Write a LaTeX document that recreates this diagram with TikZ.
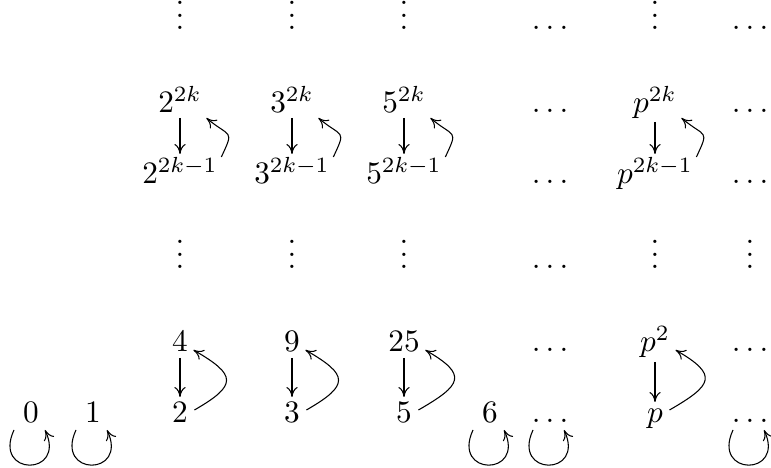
\documentclass[tikz,border=0pt]{standalone}
\usetikzlibrary{arrows.meta}
\begin{document}
\begin{tikzpicture}[x=0.32pt,y=0.32pt,
  lab/.style={anchor=base,inner sep=0pt},
  arr/.style={-{Computer Modern Rightarrow[length=3.2pt,width=3.6pt]}, line width=0.34pt}]
\useasboundingbox (0,0) rectangle (771,468);
% row 1 (baseline y=30 px)
\node[lab] (t2) at (180,438) {$\vdots$};
\node[lab] (t3) at (292,438) {$\vdots$};
\node[lab] (t5) at (404,438) {$\vdots$};
\node[lab] (td) at (550,438) {$\ldots$};
\node[lab] (tp) at (655,438) {$\vdots$};
\node[lab] (tl) at (750,438) {$\ldots$};
% row 2 (baseline 113)
\node[lab] (a2) at (180,355) {$2^{2k}$};
\node[lab] (a3) at (292,355) {$3^{2k}$};
\node[lab] (a5) at (404,355) {$5^{2k}$};
\node[lab] (ad) at (550,355) {$\ldots$};
\node[lab] (ap) at (655,355) {$p^{2k}$};
\node[lab] (al) at (750,355) {$\ldots$};
% row 3 (baseline 184)
\node[lab] (b2) at (180,284) {$2^{2k-1}$};
\node[lab] (b3) at (292,284) {$3^{2k-1}$};
\node[lab] (b5) at (404,284) {$5^{2k-1}$};
\node[lab] (bd) at (550,284) {$\ldots$};
\node[lab] (bp) at (655,284) {$p^{2k-1}$};
\node[lab] (bl) at (750,284) {$\ldots$};
% row 4 (baseline 269)
\node[lab] (m2) at (180,199) {$\vdots$};
\node[lab] (m3) at (292,199) {$\vdots$};
\node[lab] (m5) at (404,199) {$\vdots$};
\node[lab] (md) at (550,199) {$\ldots$};
\node[lab] (mp) at (655,199) {$\vdots$};
\node[lab] (ml) at (750,199) {$\vdots$};
% row 5 (baseline 352)
\node[lab] (c2) at (180,116) {$4$};
\node[lab] (c3) at (292,116) {$9$};
\node[lab] (c5) at (404,116) {$25$};
\node[lab] (cd) at (550,116) {$\ldots$};
\node[lab] (cp) at (655,116) {$p^2$};
\node[lab] (cl) at (750,116) {$\ldots$};
% row 6 (baseline 423)
\node[lab] (z0) at (31,45) {$0$};
\node[lab] (z1) at (93,45) {$1$};
\node[lab] (e2) at (180,45) {$2$};
\node[lab] (e3) at (292,45) {$3$};
\node[lab] (e5) at (404,45) {$5$};
\node[lab] (z6) at (490,45) {$6$};
\node[lab] (ed) at (550,45) {$\ldots$};
\node[lab] (ep) at (655,45) {$p$};
\node[lab] (el) at (750,45) {$\ldots$};
% arrows in the columns of 2, 3, 5
\foreach \n in {2,3,5}{
  \draw[arr] ([shift={(0,-5)}]a\n.base) -- ([shift={(0,30)}]b\n.base);
  \draw[arr] ([shift={(3,27)}]b\n.base east) to[out=65,in=-40,distance=10pt] ([shift={(4,-5)}]a\n.base east);
  \draw[arr] ([shift={(0,-6)}]c\n.base) -- ([shift={(0,26)}]e\n.base);
  \draw[arr] ([shift={(6,13)}]e\n.base east) to[out=30,in=-30,distance=16pt] ([shift={(5,2)}]c\n.base east);
}
% arrows in the column of p
\draw[arr] ([shift={(0,-9)}]ap.base) -- ([shift={(0,30)}]bp.base);
\draw[arr] ([shift={(3,27)}]bp.base east) to[out=65,in=-40,distance=10pt] ([shift={(4,-5)}]ap.base east);
\draw[arr] ([shift={(0,-10)}]cp.base) -- ([shift={(0,21)}]ep.base);
\draw[arr] ([shift={(6,13)}]ep.base east) to[out=30,in=-30,distance=16pt] ([shift={(5,2)}]cp.base east);
% loops
\foreach \n in {z0,z1,z6,ed,el}{
  \draw[arr] ([shift={(-17,-7)}]\n.base) to[out=-115,in=-65,distance=16.5pt] ([shift={(14,-7)}]\n.base);
}
\end{tikzpicture}
\end{document}
